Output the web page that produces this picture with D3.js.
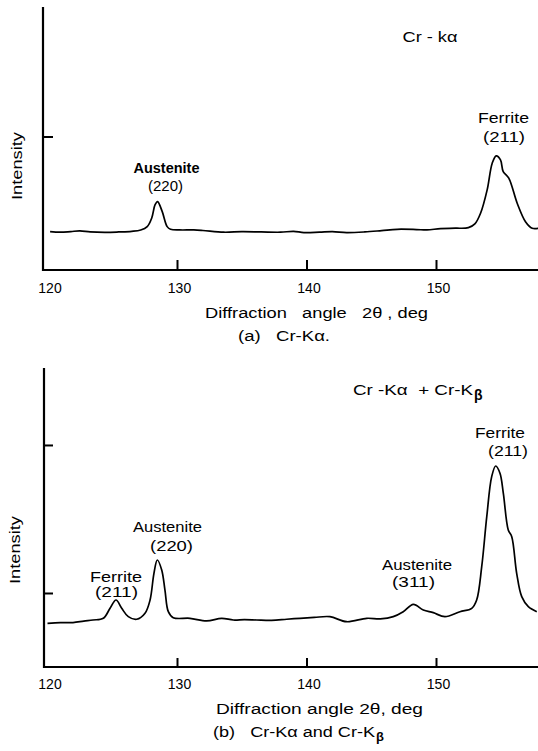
<!DOCTYPE html>
<html>
<head>
<meta charset="utf-8">
<script src="https://cdn.jsdelivr.net/npm/d3@7"></script>
<style>
  html, body { margin: 0; padding: 0; background: #fff; }
  svg { display: block; }
  text { font-family: "Liberation Sans", Arial, sans-serif; fill: #000; }
</style>
</head>
<body>
<svg id="chart" width="538" height="751"></svg>
<script>
// ---- Data: diffraction scans (2θ in degrees, relative intensity) ----
const angleTicks = [120, 130, 140, 150];
const tickLabels = ["120", "130", "140", "150"];

// (a) Cr-Kα radiation only
const scanA_angle = [120.2, 121.0, 121.8, 122.5, 123.3, 124.5, 125.5, 126.5, 127.2, 127.7,
  128.05, 128.3, 128.5, 128.86, 129.24, 129.5, 130.2, 131.3, 132.0, 133.6, 135.0, 136.5,
  138.0, 139.0, 139.8, 141.0, 142.0, 143.1, 144.5, 145.8, 147.0, 148.5, 149.3, 150.35,
  151.5, 152.5, 153.0, 153.44, 153.95, 154.34, 154.65, 154.98, 155.19, 155.62, 156.27,
  156.91, 157.43, 157.92];
const scanA_intensity = [0.287, 0.283, 0.288, 0.293, 0.285, 0.282, 0.285, 0.290, 0.300, 0.325,
  0.390, 0.487, 0.512, 0.437, 0.325, 0.305, 0.300, 0.300, 0.296, 0.283, 0.287, 0.285,
  0.283, 0.290, 0.280, 0.283, 0.287, 0.280, 0.285, 0.295, 0.305, 0.303, 0.300, 0.310,
  0.313, 0.317, 0.345, 0.425, 0.600, 0.800, 0.855, 0.825, 0.737, 0.688, 0.500,
  0.362, 0.313, 0.313];

// (b) Cr-Kα and Cr-Kβ radiation
const scanB_angle = [120.0, 121.0, 121.97, 122.8, 123.51, 124.31, 124.83, 125.29, 125.73, 126.24,
  126.89, 127.53, 127.92, 128.22, 128.48, 128.82, 129.07, 129.33, 129.71, 131.0, 132.29,
  133.45, 134.35, 135.2, 136.15, 137.3, 138.47, 139.5, 140.6, 141.81, 143.1, 144.65,
  145.7, 146.7, 147.47, 148.25, 149.02, 149.79, 150.69, 151.85, 152.76, 153.14, 153.53,
  153.92, 154.3, 154.61, 154.94, 155.2, 155.58, 155.85, 156.23, 156.62, 157.13, 157.78];
const scanB_intensity = [0.59, 0.60, 0.60, 0.62, 0.635, 0.658, 0.793, 0.905, 0.793, 0.68,
  0.645, 0.726, 0.905, 1.266, 1.446, 1.311, 1.04, 0.747, 0.666, 0.658, 0.622,
  0.658, 0.635, 0.64, 0.635, 0.63, 0.645, 0.658, 0.67, 0.68, 0.612, 0.658,
  0.65, 0.68, 0.747, 0.847, 0.77, 0.734, 0.68, 0.747, 0.793, 0.905, 1.355,
  2.031, 2.572, 2.716, 2.618, 2.347, 1.851, 1.761, 1.266, 0.95, 0.815, 0.747];

const yTicksA = [1];
const yTicksB = [1, 3];

// ---- Layout ----
const svg = d3.select("#chart");

const x = d3.scaleLinear().domain([120, 158]).range([47.5, 539.6]);

const panels = [
  {
    angle: scanA_angle, intensity: scanA_intensity, yTicks: yTicksA,
    axisY: 270, axisX: 43, top: 7, yMax: 1.97, tickLen: 10, tickLabelY: 293,
    title: "Diffraction   angle   2θ , deg", titleX: 205, titleY: 318, titleLen: 223,
    intensityX: 22, intensityY: 166,
    notes: [
      { t: "Austenite", x: 166.5, y: 173, len: 66, bold: true },
      { t: "(220)", x: 165.5, y: 191, len: 35 },
      { t: "Ferrite", x: 503.5, y: 123, len: 51 },
      { t: "(211)", x: 504, y: 142, len: 42 },
      { t: "Cr - kα", x: 430, y: 42, len: 55 }
    ]
  },
  {
    angle: scanB_angle, intensity: scanB_intensity, yTicks: yTicksB,
    axisY: 667, axisX: 44, top: 368, yMax: 4.04, tickLen: 9, tickLabelY: 689,
    title: "Diffraction angle 2θ, deg", titleX: 216, titleY: 714, titleLen: 207,
    intensityX: 20, intensityY: 550,
    notes: [
      { t: "Ferrite", x: 116, y: 582, len: 52 },
      { t: "(211)", x: 116.5, y: 597, len: 43 },
      { t: "Austenite", x: 167.5, y: 532, len: 69 },
      { t: "(220)", x: 171.5, y: 551, len: 43 },
      { t: "Austenite", x: 417, y: 570, len: 70 },
      { t: "(311)", x: 413.5, y: 587, len: 43 },
      { t: "Ferrite", x: 500, y: 438, len: 50 },
      { t: "(211)", x: 508, y: 456, len: 40 }
    ]
  }
];

panels.forEach(p => {
  const y = d3.scaleLinear().domain([0, p.yMax]).range([p.axisY, p.top]);
  const g = svg.append("g");

  // x axis: ticks point inward (up), labels below
  const xAxis = d3.axisBottom(x)
    .tickValues(angleTicks)
    .tickFormat((d, i) => tickLabels[i])
    .tickSizeInner(-p.tickLen)
    .tickSizeOuter(0)
    .tickPadding(0);
  const gx = g.append("g").attr("transform", `translate(0,${p.axisY})`).call(xAxis);
  gx.select(".domain").remove();
  gx.selectAll(".tick line").attr("stroke", "#000").attr("stroke-width", 2)
    .filter(d => d === 120).remove();
  gx.selectAll(".tick text")
    .attr("y", p.tickLabelY - p.axisY).attr("dy", null).attr("dx", 2)
    .style("font-size", "14px");
  g.append("line")
    .attr("x1", p.axisX).attr("x2", 538)
    .attr("y1", p.axisY).attr("y2", p.axisY)
    .attr("stroke", "#000").attr("stroke-width", 2.2);

  // y axis: unlabelled ticks pointing inward
  const yAxis = d3.axisLeft(y)
    .tickValues(p.yTicks)
    .tickFormat("")
    .tickSizeInner(-p.tickLen)
    .tickSizeOuter(0);
  const gy = g.append("g").attr("transform", `translate(${p.axisX},0)`).call(yAxis);
  gy.select(".domain").remove();
  gy.selectAll(".tick line").attr("stroke", "#000").attr("stroke-width", 2);
  g.append("line")
    .attr("x1", p.axisX).attr("x2", p.axisX)
    .attr("y1", p.top).attr("y2", p.axisY + 1)
    .attr("stroke", "#000").attr("stroke-width", 2.2);

  // diffraction trace
  const pts = p.angle.map((a, i) => [a, p.intensity[i]]);
  const line = d3.line()
    .x(d => x(d[0]))
    .y(d => y(d[1]))
    .curve(d3.curveCatmullRom.alpha(0.5));
  g.append("path")
    .attr("d", line(pts))
    .attr("fill", "none")
    .attr("stroke", "#000")
    .attr("stroke-width", 1.7)
    .attr("stroke-linejoin", "round");

  // axis titles
  g.append("text")
    .attr("x", p.titleX).attr("y", p.titleY)
    .attr("textLength", p.titleLen).attr("lengthAdjust", "spacingAndGlyphs")
    .style("white-space", "pre")
    .style("font-size", "14px")
    .text(p.title);
  g.append("text")
    .attr("transform", `translate(${p.intensityX},${p.intensityY}) rotate(-90)`)
    .attr("text-anchor", "middle")
    .attr("textLength", 68).attr("lengthAdjust", "spacingAndGlyphs")
    .style("font-size", "14px")
    .text("Intensity");

  // peak annotations
  p.notes.forEach(n => {
    g.append("text")
      .attr("x", n.x - n.len / 2).attr("y", n.y)
      .attr("textLength", n.len).attr("lengthAdjust", "spacingAndGlyphs")
      .style("font-size", "14px")
      .style("font-weight", n.bold ? "bold" : "normal")
      .style("white-space", "pre")
      .text(n.t);
  });
});

// radiation captions
const capB = svg.append("g");
capB.append("text").attr("x", 353).attr("y", 395)
  .attr("textLength", 120).attr("lengthAdjust", "spacingAndGlyphs")
  .style("font-size", "14px").style("white-space", "pre")
  .text("Cr -Kα  + Cr-K");
capB.append("text").attr("x", 474).attr("y", 400)
  .style("font-size", "14px").style("font-weight", "bold").text("β");

svg.append("text").attr("x", 238).attr("y", 341)
  .attr("textLength", 92).attr("lengthAdjust", "spacingAndGlyphs")
  .style("font-size", "14px").style("white-space", "pre")
  .text("(a)   Cr-Kα.");

const capBottom = svg.append("g");
capBottom.append("text").attr("x", 213).attr("y", 737)
  .attr("textLength", 162).attr("lengthAdjust", "spacingAndGlyphs")
  .style("font-size", "14px").style("white-space", "pre")
  .text("(b)   Cr-Kα and Cr-K");
capBottom.append("text").attr("x", 376).attr("y", 741)
  .style("font-size", "13px").style("font-weight", "bold").text("β");
</script>
</body>
</html>
